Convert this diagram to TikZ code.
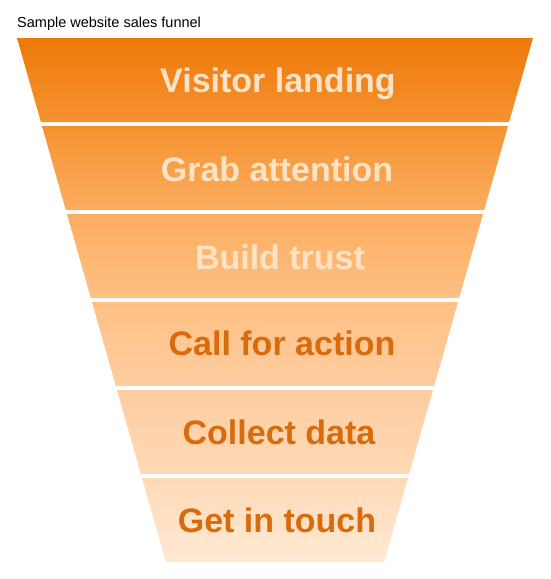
\documentclass[tikz,border=0pt]{standalone}
\usepackage{fontspec}
\setmainfont{Liberation Sans}
\definecolor{fa}{HTML}{EE790B}
\definecolor{fb}{HTML}{F5922F}
\definecolor{fc}{HTML}{FCAD60}
\definecolor{fd}{HTML}{FEC084}
\definecolor{fe}{HTML}{FECDA0}
\definecolor{ff}{HTML}{FFD9B6}
\definecolor{fg}{HTML}{FFEAD4}
\definecolor{lighttext}{HTML}{FDE3C6}
\definecolor{darktext}{HTML}{D96B0C}
\begin{document}
\begin{tikzpicture}[x=1pt,y=-1pt, line join=round, line cap=round,
	stagelabel/.style={anchor=base, inner sep=0pt, font=\fontsize{34}{40}\selectfont\bfseries},
	lightlabel/.style={stagelabel, text=lighttext},
	darklabel/.style={stagelabel, text=darktext}]
				\useasboundingbox (0,0) rectangle (550,579);
				\node at (17,27) [anchor=base west, inner sep=0pt, font=\fontsize{14.5}{17}\selectfont] (title) {Sample website sales funnel};
%				funnel bands
				\shade[top color=fa, bottom color=fb] (17,38) -- (533,38) -- (509.1,122) -- (40.9,122) -- cycle;
				\shade[top color=fb, bottom color=fc] (42,126) -- (508,126) -- (484.2,210) -- (65.8,210) -- cycle;
				\shade[top color=fc, bottom color=fd] (67,214) -- (483,214) -- (459.2,298) -- (90.8,298) -- cycle;
				\shade[top color=fd, bottom color=fe] (92,302) -- (458,302) -- (434.2,386) -- (115.8,386) -- cycle;
				\shade[top color=fe, bottom color=ff] (117,390) -- (433,390) -- (409.2,474) -- (140.8,474) -- cycle;
				\shade[top color=ff, bottom color=fg] (142,478) -- (408,478) -- (384.2,562) -- (165.8,562) -- cycle;
%				stage labels
				\node at (278,92) [lightlabel] (visitor) {Visitor landing};
				\node at (277,181) [lightlabel] (grab) {Grab attention};
				\node at (280,269) [lightlabel] (trust) {Build trust};
				\node at (282,355) [darklabel] (call) {Call for action};
				\node at (279,444) [darklabel] (collect) {Collect data};
				\node at (277,532) [darklabel] (touch) {Get in touch};
			\end{tikzpicture}
\end{document}
